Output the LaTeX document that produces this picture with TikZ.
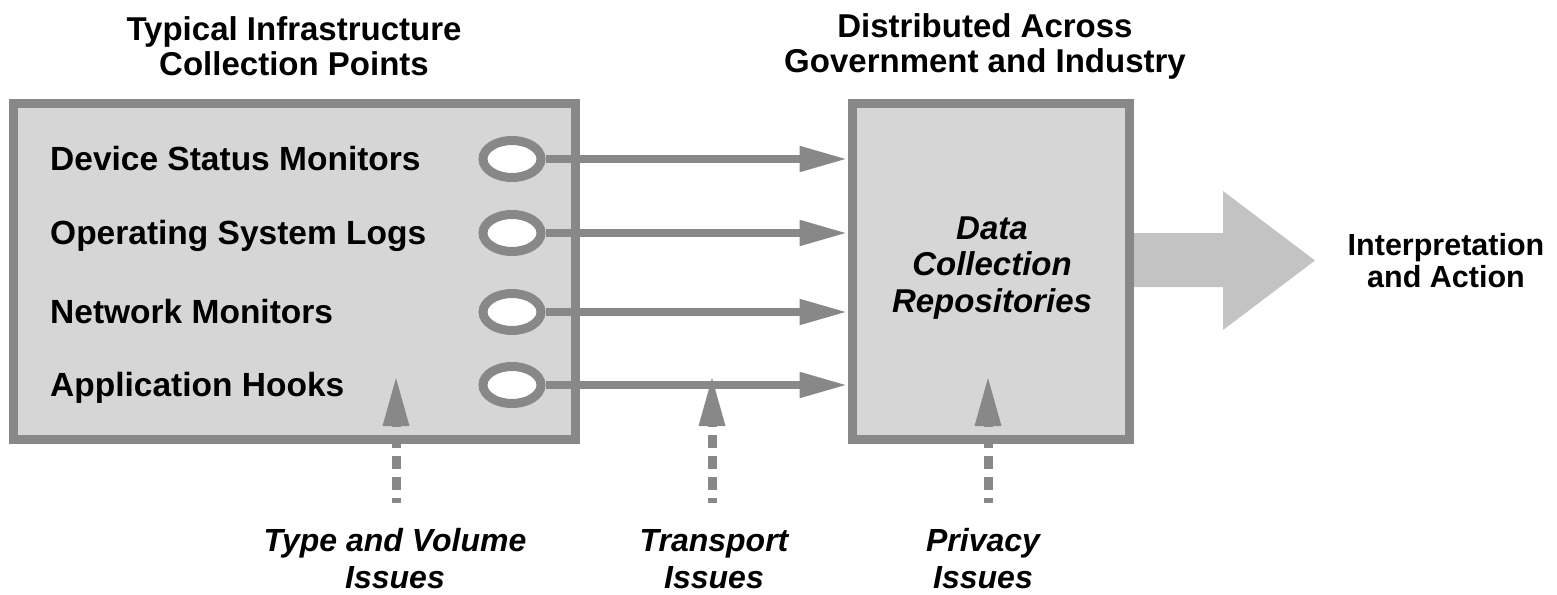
\documentclass[tikz,border=0pt]{standalone}
\usepackage{fontspec}
\setmainfont{Liberation Sans}
\usetikzlibrary{arrows.meta,shapes.geometric}
\definecolor{edgegray}{HTML}{888888}
\definecolor{panelgray}{HTML}{D6D6D6}
\definecolor{bigarrow}{HTML}{C3C3C3}
\begin{document}
\begin{tikzpicture}[x=1pt,y=-1pt,
  panel/.style={draw=edgegray, fill=panelgray, line width=9pt, inner sep=0pt},
  heading/.style={font=\fontsize{33}{35}\selectfont\bfseries, align=center},
  outcome/.style={font=\fontsize{30.5}{32}\selectfont\bfseries, align=center},
  item/.style={font=\fontsize{33.5}{38}\selectfont\bfseries, anchor=base west, inner sep=0pt},
  port/.style={ellipse, draw=edgegray, fill=white, line width=9pt,
    minimum width=58pt, minimum height=37pt, inner sep=0pt},
  feed/.style={draw=edgegray, line width=8pt, -{Triangle[length=48pt,width=24pt]}},
  issue/.style={draw=edgegray, line width=9pt, dash pattern=on 12.5pt off 8.5pt,
    dash phase=7.5pt, -{Triangle[length=51pt,width=24pt]}},
  note/.style={font=\fontsize{32}{37}\selectfont\bfseries\itshape, align=center},
]
\useasboundingbox (0,0) rectangle (1557,594);

% wide arrow leaving the repositories
\fill[bigarrow] (1129,233) -- (1223,233) -- (1223,191) -- (1315,260.5)
  -- (1223,330) -- (1223,287) -- (1129,287) -- cycle;

% the two panels
\node[panel, minimum width=562pt, minimum height=336pt] (src) at (294,271) {};
\node[panel, minimum width=277pt, minimum height=336pt] (repo) at (990.5,271) {};

% headings
\node[heading] (srctitle) at (294,46) {Typical Infrastructure\\Collection Points};
\node[heading] (repotitle) at (985,46) {Distributed Across\\Government and Industry};

% collection points
\node[item] (dev) at (50,170) {Device Status Monitors};
\node[item] (os)  at (50,244) {Operating System Logs};
\node[item] (net) at (50,323) {Network Monitors};
\node[item] (app) at (50,396) {Application Hooks};

\node[port] (p1) at (512,159) {};
\node[port] (p2) at (512,233) {};
\node[port] (p3) at (512,312) {};
\node[port] (p4) at (512,385) {};

\draw[feed] (p1.east) -- (p1.east -| repo.west);
\draw[feed] (p2.east) -- (p2.east -| repo.west);
\draw[feed] (p3.east) -- (p3.east -| repo.west);
\draw[feed] (p4.east) -- (p4.east -| repo.west);

% repository label and outcome
\node[note, font=\fontsize{33}{36.5}\selectfont\bfseries\itshape] (repotext) at (992,268)
  {Data\\Collection\\Repositories};
\node[outcome] (result) at (1446,261) {Interpretation\\and Action};

% issue arrows
\coordinate (tvb) at (396,503); \coordinate (tvh) at (396,375);
\coordinate (trb) at (712,503); \coordinate (trh) at (712,375);
\coordinate (prb) at (988,503); \coordinate (prh) at (988,375);
\draw[issue] (tvb) -- (tvh);
\draw[issue] (trb) -- (trh);
\draw[issue] (prb) -- (prh);

\node[note] (tvl) at (395,559) {Type and Volume\\Issues};
\node[note] (trl) at (714,559) {Transport\\Issues};
\node[note] (prl) at (983,559) {Privacy\\Issues};
\end{tikzpicture}
\end{document}
